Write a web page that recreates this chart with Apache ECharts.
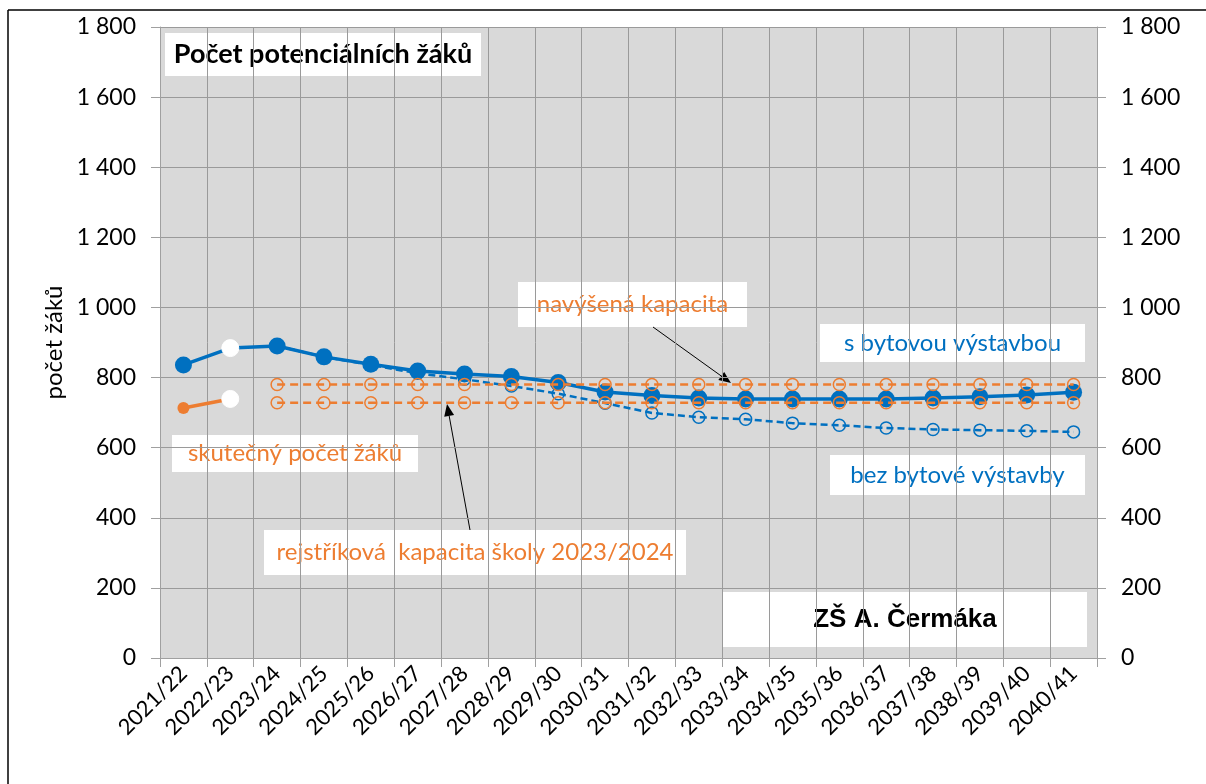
<!DOCTYPE html>
<html>
<head>
<meta charset="utf-8">
<script src="https://cdn.jsdelivr.net/npm/echarts@6/dist/echarts.min.js"></script>
<style>
  html, body { margin: 0; padding: 0; background: #fff; }
  #chart { width: 1206px; height: 784px; }
</style>
</head>
<body>
<div id="chart"></div>
<script>
// školní roky
var roky = ['2021/22', '2022/23', '2023/24', '2024/25', '2025/26', '2026/27', '2027/28',
  '2028/29', '2029/30', '2030/31', '2031/32', '2032/33', '2033/34', '2034/35', '2035/36',
  '2036/37', '2037/38', '2038/39', '2039/40', '2040/41'];

// s bytovou výstavbou
var sBytovou = [836, 884, 890, 859, 838, 819, 810, 803, 786, 759, 749, 742, 739, 739, 739, 739, 742, 745, 750, 758];
// bez bytové výstavby
var bezBytove = [null, null, 890, 859, 836, 812, 795, 776, 754, 727, 699, 687, 681, 670, 664, 656, 652, 650, 648, 645];
// skutečný počet žáků
var skutecny = [713, 739, null, null, null, null, null, null, null, null, null, null, null, null, null, null, null, null, null, null];
// kapacity
var navysena = [null, null, 780, 780, 780, 780, 780, 780, 780, 780, 780, 780, 780, 780, 780, 780, 780, 780, 780, 780];
var rejstrikova = [null, null, 728, 728, 728, 728, 728, 728, 728, 728, 728, 728, 728, 728, 728, 728, 728, 728, 728, 728];

var yTicks = [0, 200, 400, 600, 800, 1000, 1200, 1400, 1600, 1800];

var MODRA = '#0070C0';
var ORANZ = '#ED7D31';
var FONT = 'Lato';

function fmt(v) {
  return String(v).replace(/\B(?=(\d{3})+(?!\d))/g, ' ');
}

// bílý bod u druhého roku
function bilyBod(arr) {
  return arr.map(function (v, i) {
    if (i === 1) return { value: v, symbolSize: 17, itemStyle: { color: '#fff', borderColor: '#fff' } };
    return v;
  });
}

function popisek(x, y, w, h, text, color, font) {
  return {
    type: 'group',
    z: 100,
    children: [
      { type: 'rect', shape: { x: x, y: y, width: w, height: h }, style: { fill: '#fff' } },
      {
        type: 'text', x: x + w / 2, y: y + h / 2,
        style: { text: text, fill: color, font: font, align: 'center', verticalAlign: 'middle' }
      }
    ]
  };
}

function sipka(x1, y1, x2, y2) {
  var a = Math.atan2(y2 - y1, x2 - x1);
  var L = 12, W = 5;
  var bx = x2 - L * Math.cos(a), by = y2 - L * Math.sin(a);
  return {
    type: 'group',
    z: 100,
    children: [
      { type: 'line', shape: { x1: x1, y1: y1, x2: bx, y2: by }, style: { stroke: '#000', lineWidth: 1 } },
      {
        type: 'polygon',
        shape: { points: [[x2, y2], [bx - W * Math.sin(a), by + W * Math.cos(a)], [bx + W * Math.sin(a), by - W * Math.cos(a)]] },
        style: { fill: '#000' }
      }
    ]
  };
}

var myChart = echarts.init(document.getElementById('chart'));

var yAxisBase = {
  type: 'value',
  min: 0,
  max: 1800,
  interval: 200,
  axisLine: { show: true, lineStyle: { color: '#a0a0a0', width: 1 } },
  axisTick: { show: true, length: 9, lineStyle: { color: '#a0a0a0' } },
  axisLabel: {
    color: '#000', fontFamily: FONT, fontSize: 23, margin: 24,
    formatter: function (v) { return yTicks.indexOf(v) >= 0 ? fmt(v) : ''; }
  }
};

// prázdné kolečko bez výplně
var duty = 'circle';

myChart.setOption({
  animation: false,
  backgroundColor: '#fff',
  grid: {
    left: 160, right: 109, top: 27, bottom: 126,
    show: true, backgroundColor: '#d9d9d9', borderWidth: 0
  },
  xAxis: {
    type: 'category',
    data: roky,
    boundaryGap: true,
    axisLine: { lineStyle: { color: '#a0a0a0' } },
    axisTick: { show: true, length: 9, interval: 0, lineStyle: { color: '#a0a0a0' } },
    splitLine: { show: true, interval: 0, lineStyle: { color: '#9a9a9a', width: 1 } },
    axisLabel: { color: '#000', fontFamily: FONT, fontSize: 22, rotate: 45, interval: 0, margin: 12 }
  },
  yAxis: [
    Object.assign({}, yAxisBase, {
      position: 'left',
      name: 'počet žáků',
      nameLocation: 'middle',
      nameGap: 86,
      nameRotate: 90,
      nameTextStyle: { color: '#000', fontFamily: FONT, fontSize: 24 },
      splitLine: { show: true, lineStyle: { color: '#9a9a9a', width: 1 } }
    }),
    Object.assign({}, yAxisBase, {
      position: 'right',
      splitLine: { show: false }
    })
  ],
  series: [
    {
      name: 'bez bytové výstavby',
      type: 'line',
      data: bezBytove,
      z: 2,
      symbol: duty,
      symbolSize: 12,
      lineStyle: { color: MODRA, width: 2.5, type: [7, 4] },
      itemStyle: { color: 'rgba(0,0,0,0)', borderColor: MODRA, borderWidth: 1.5 }
    },
    {
      name: 's bytovou výstavbou',
      type: 'line',
      data: bilyBod(sBytovou),
      z: 3,
      symbol: 'circle',
      symbolSize: 17,
      lineStyle: { color: MODRA, width: 3.5 },
      itemStyle: { color: MODRA }
    },
    {
      name: 'skutečný počet žáků',
      type: 'line',
      data: bilyBod(skutecny),
      z: 3,
      symbol: 'circle',
      symbolSize: 12,
      lineStyle: { color: ORANZ, width: 3.5 },
      itemStyle: { color: ORANZ }
    },
    {
      name: 'navýšená kapacita',
      type: 'line',
      data: navysena,
      z: 5,
      symbol: duty,
      symbolSize: 12,
      lineStyle: { color: ORANZ, width: 2.5, type: [8, 5] },
      itemStyle: { color: 'rgba(0,0,0,0)', borderColor: ORANZ, borderWidth: 1.5 }
    },
    {
      name: 'rejstříková kapacita',
      type: 'line',
      data: rejstrikova,
      z: 5,
      symbol: duty,
      symbolSize: 12,
      lineStyle: { color: ORANZ, width: 2.5, type: [8, 5] },
      itemStyle: { color: 'rgba(0,0,0,0)', borderColor: ORANZ, borderWidth: 1.5 }
    }
  ],
  graphic: [
    // rámeček
    { type: 'line', shape: { x1: 8, y1: 10, x2: 1206, y2: 10 }, style: { stroke: '#000', lineWidth: 1.5 } },
    { type: 'line', shape: { x1: 8, y1: 10, x2: 8, y2: 784 }, style: { stroke: '#000', lineWidth: 1.5 } },
    popisek(165, 33, 316, 43, 'Počet potenciálních žáků', '#000', 'bold 27px Lato'),
    popisek(518, 282, 229, 45, 'navýšená kapacita', ORANZ, '24px Lato'),
    popisek(820, 324, 265, 38, 's bytovou výstavbou', MODRA, '24px Lato'),
    popisek(172, 435, 246, 37, 'skutečný počet žáků', ORANZ, '24px Lato'),
    popisek(830, 455, 255, 40, 'bez bytové výstavby', MODRA, '24px Lato'),
    popisek(264, 530, 422, 45, 'rejstříková  kapacita školy 2023/2024', ORANZ, '24px Lato'),
    popisek(723, 592, 364, 55, 'ZŠ A. Čermáka', '#000', 'bold 26px "Liberation Sans"'),
    sipka(653, 327, 731, 383),
    sipka(470, 530, 447, 404)
  ]
});
</script>
</body>
</html>
